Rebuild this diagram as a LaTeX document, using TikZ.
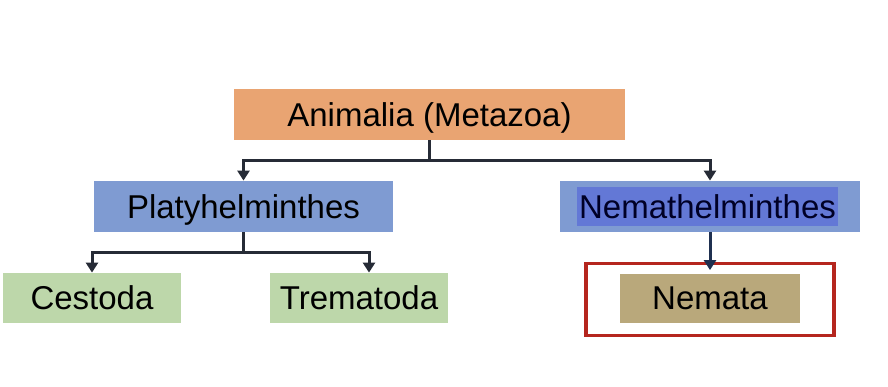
\documentclass[tikz,border=0pt]{standalone}
\usepackage{fontspec}
\setmainfont{Liberation Sans}
\usetikzlibrary{arrows.meta}

\definecolor{orangebox}{HTML}{E9A472}
\definecolor{bluebox}{HTML}{7F9BD2}
\definecolor{darkblue}{HTML}{6378D6}
\definecolor{greenbox}{HTML}{BDD7AA}
\definecolor{tanbox}{HTML}{B9A87B}
\definecolor{redframe}{HTML}{B5261E}
\definecolor{linecol}{HTML}{262B36}
\definecolor{navyline}{HTML}{1F3050}

\begin{document}
\begin{tikzpicture}[x=0.5pt, y=-0.5pt,
	taxon/.style = {inner sep=0pt, minimum height=25.5pt, text height=11.8pt, text depth=0pt, font=\fontsize{16.5}{19}\selectfont},
	link/.style = {draw=linecol, line width=1.5pt, -{Triangle[width=6pt,length=5pt]}},]

		\useasboundingbox (0,0) rectangle (888,386);

		\node[taxon, fill=orangebox, minimum width=195.5pt] (anim) at (429.5,114.5) {Animalia (Metazoa)};
		\node[taxon, fill=bluebox, minimum width=149.5pt] (platy) at (243.5,206.5) {Platyhelminthes};
		\node[taxon, fill=bluebox, minimum width=150pt] (nemh) at (710,206.5) {};
		\node[taxon, fill=darkblue, minimum width=130.5pt, minimum height=19.5pt, text=black!85!blue] (nemhtxt) at (707.5,206.5) {Nemathelminthes};
		\node[taxon, fill=greenbox, minimum width=89pt, minimum height=25pt] (cest) at (92,298) {Cestoda};
		\node[taxon, fill=greenbox, minimum width=89pt, minimum height=25pt] (trem) at (359,298) {Trematoda};
		\node[draw=redframe, line width=1.7pt, minimum width=124pt, minimum height=36pt] (frame) at (710,299.5) {};
		\node[taxon, fill=tanbox, minimum width=90pt, minimum height=24.5pt] (nema) at (710,298) {Nemata};

		\draw[link] (anim.south) -- ++(0,20) -| (platy.north);
		\draw[link] (anim.south) -- ++(0,20) -| (nemh.north);
		\draw[link] (platy.south) -- ++(0,20) -| (cest.north);
		\draw[link] (platy.south) -- ++(0,20) -| ([xshift=5pt]trem.north);
		\draw[link, draw=navyline] (nemh.south) -- ([yshift=1.5pt]nema.north);

	\end{tikzpicture}
\end{document}
